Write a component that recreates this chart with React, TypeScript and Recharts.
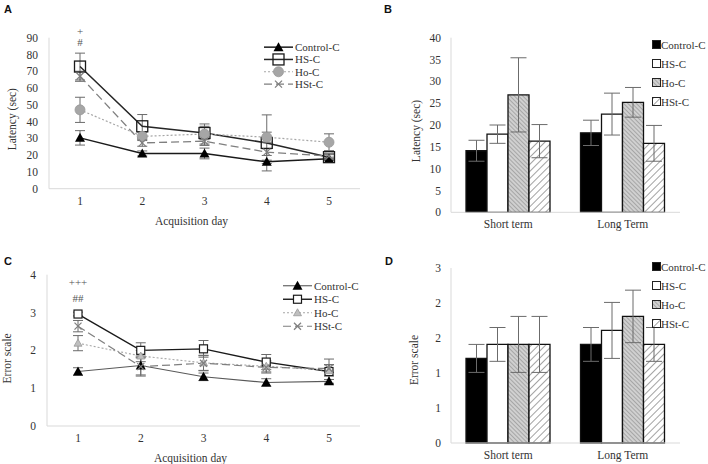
import React from 'react';
import { LineChart, Line, BarChart, Bar, XAxis, YAxis, ErrorBar, Legend, ReferenceDot } from 'recharts';

const days = ['1', '2', '3', '4', '5'];
const terms = ['Short term', 'Long Term'];

// A - latency over acquisition days
const latControl = [30.3, 21, 21, 16, 17.8];
const latControlErr = [4.3, 1.5, 3.2, 1, 1];
const latHS = [72.8, 37.2, 33.2, 27.3, 18.8];
const latHSErr = [8, 7, 4, 16.7, 1.5];
const latHo = [47, 31.2, 32.6, 30.7, 27.7];
const latHoErr = [7.5, 2.5, 6, 3, 5];
const latHSt = [67, 27.3, 28.3, 21.8, 19.4];
const latHStErr = [3, 2, 2.5, 2, 1.5];
const latTicks = [0, 10, 20, 30, 40, 50, 60, 70, 80, 90];
const annotA = [
	{ day: '1', y: 93.8, text: '+' },
	{ day: '1', y: 87.5, text: '#' },
];

// B - latency, short / long term
const memLatControl = [14.1, 18.2];
const memLatControlErr = [2.4, 2.9];
const memLatHS = [17.9, 22.5];
const memLatHSErr = [2.1, 4.8];
const memLatHo = [26.9, 25.2];
const memLatHoErr = [8.5, 3.4];
const memLatHSt = [16.3, 15.8];
const memLatHStErr = [3.8, 4.1];
const memLatTicks = [0, 5, 10, 15, 20, 25, 30, 35, 40];

// C - error scale over acquisition days
const errControl = [1.44, 1.6, 1.3, 1.15, 1.18];
const errControlErr = [0.1, 0.25, 0.1, 0.1, 0.05];
const errHS = [2.96, 2.0, 2.04, 1.69, 1.44];
const errHSErr = [0.05, 0.2, 0.22, 0.2, 0.33];
const errHo = [2.19, 1.85, 1.67, 1.58, 1.47];
const errHoErr = [0.2, 0.15, 0.2, 0.15, 0.15];
const errHSt = [2.64, 1.57, 1.66, 1.55, 1.52];
const errHStErr = [0.15, 0.25, 0.2, 0.15, 0.1];
const errTicks = [0, 1, 2, 3, 4];
const annotC = [
	{ day: '1', y: 3.81, text: '+++' },
	{ day: '1', y: 3.38, text: '##' },
];

// D - error scale, short / long term
const memErrControl = [1.45, 1.69];
const memErrControlErr = [0.24, 0.29];
const memErrHS = [1.69, 1.93];
const memErrHSErr = [0.29, 0.48];
const memErrHo = [1.69, 2.17];
const memErrHoErr = [0.48, 0.45];
const memErrHSt = [1.69, 1.69];
const memErrHStErr = [0.48, 0.29];
const memErrTicks = [0, 0.6, 1.2, 1.8, 2.4, 3];

const latencyData = days.map((day, i) => ({
	day,
	control: latControl[i], controlErr: latControlErr[i],
	hs: latHS[i], hsErr: latHSErr[i],
	ho: latHo[i], hoErr: latHoErr[i],
	hst: latHSt[i], hstErr: latHStErr[i],
}));

const errorData = days.map((day, i) => ({
	day,
	control: errControl[i], controlErr: errControlErr[i],
	hs: errHS[i], hsErr: errHSErr[i],
	ho: errHo[i], hoErr: errHoErr[i],
	hst: errHSt[i], hstErr: errHStErr[i],
}));

const memLatData = terms.map((term, i) => ({
	term,
	control: memLatControl[i], controlErr: memLatControlErr[i],
	hs: memLatHS[i], hsErr: memLatHSErr[i],
	ho: memLatHo[i], hoErr: memLatHoErr[i],
	hst: memLatHSt[i], hstErr: memLatHStErr[i],
}));

const memErrData = terms.map((term, i) => ({
	term,
	control: memErrControl[i], controlErr: memErrControlErr[i],
	hs: memErrHS[i], hsErr: memErrHSErr[i],
	ho: memErrHo[i], hoErr: memErrHoErr[i],
	hst: memErrHSt[i], hstErr: memErrHStErr[i],
}));

const SERIF = "'Liberation Serif', 'Times New Roman', serif";
const AXIS = '#d9d9d9';
const TEXT = '#333';
const ERR = '#6b6b6b';

type MarkerKind = 'triangle' | 'square' | 'squareWhite' | 'circle' | 'cross' | 'smallTriangle';

interface LineSeries {
	key: string;
	name: string;
	stroke: string;
	width: number;
	dash?: string;
	marker: MarkerKind;
}

const seriesA: LineSeries[] = [
	{ key: 'control', name: 'Control-C', stroke: '#1a1a1a', width: 1.5, marker: 'triangle' },
	{ key: 'hs', name: 'HS-C', stroke: '#262626', width: 1.5, marker: 'square' },
	{ key: 'ho', name: 'Ho-C', stroke: '#a6a6a6', width: 1.2, dash: '2 2', marker: 'circle' },
	{ key: 'hst', name: 'HSt-C', stroke: '#7f7f7f', width: 1.3, dash: '8 4', marker: 'cross' },
];

const seriesC: LineSeries[] = [
	{ key: 'control', name: 'Control-C', stroke: '#595959', width: 1.1, marker: 'triangle' },
	{ key: 'hs', name: 'HS-C', stroke: '#1a1a1a', width: 1.4, marker: 'squareWhite' },
	{ key: 'ho', name: 'Ho-C', stroke: '#a6a6a6', width: 1.1, dash: '2 2', marker: 'smallTriangle' },
	{ key: 'hst', name: 'HSt-C', stroke: '#7f7f7f', width: 1.2, dash: '8 4', marker: 'cross' },
];

const Marker = ({ kind, cx, cy }: { kind: MarkerKind; cx: number; cy: number }) => {
	if (cx == null || cy == null) return null;
	switch (kind) {
		case 'triangle':
			return <polygon points={`${cx},${cy - 5} ${cx - 5},${cy + 4} ${cx + 5},${cy + 4}`} fill="#000" />;
		case 'square':
			return <rect x={cx - 5.5} y={cy - 5.5} width={11} height={11} fill="none" stroke="#1a1a1a" strokeWidth={1.3} />;
		case 'squareWhite':
			return <rect x={cx - 4} y={cy - 4} width={8} height={8} fill="#fff" stroke="#1a1a1a" strokeWidth={1.2} />;
		case 'circle':
			return <circle cx={cx} cy={cy} r={5} fill="#a6a6a6" stroke="#999" strokeWidth={0.8} />;
		case 'smallTriangle':
			return <polygon points={`${cx},${cy - 4} ${cx - 4},${cy + 3} ${cx + 4},${cy + 3}`} fill="#bfbfbf" stroke="#999" strokeWidth={0.8} />;
		case 'cross':
		default:
			return (
				<g stroke="#7f7f7f" strokeWidth={1.2}>
					<line x1={cx - 3.5} y1={cy - 3.5} x2={cx + 3.5} y2={cy + 3.5} />
					<line x1={cx - 3.5} y1={cy + 3.5} x2={cx + 3.5} y2={cy - 3.5} />
				</g>
			);
	}
};

const LineLegend = ({ items, rowH }: { items: LineSeries[]; rowH: number }) => (
	<svg width={110} height={rowH * items.length} style={{ display: 'block', overflow: 'visible' }}>
		{items.map((s, i) => {
			const y = rowH * i + rowH / 2;
			return (
				<g key={s.key}>
					<line x1={0} x2={29} y1={y} y2={y} stroke={s.stroke} strokeWidth={s.width} strokeDasharray={s.dash} />
					<Marker kind={s.marker} cx={14.5} cy={y} />
					<text x={31} y={y} dominantBaseline="central" fontSize={11} fill={TEXT} fontFamily={SERIF}>{s.name}</text>
				</g>
			);
		})}
	</svg>
);

const barGroups = [
	{ key: 'control', name: 'Control-C', fill: '#000' },
	{ key: 'hs', name: 'HS-C', fill: '#fff' },
	{ key: 'ho', name: 'Ho-C', fill: 'ho' },
	{ key: 'hst', name: 'HSt-C', fill: 'hst' },
];

const Patterns = ({ prefix }: { prefix: string }) => (
	<defs>
		<pattern id={`${prefix}-ho`} width={3} height={3} patternUnits="userSpaceOnUse" patternTransform="rotate(-45)">
			<rect width={3} height={3} fill="#d0d0d0" />
			<line x1={0} y1={0} x2={0} y2={3} stroke="#8a8a8a" strokeWidth={1.2} />
		</pattern>
		<pattern id={`${prefix}-hst`} width={5} height={5} patternUnits="userSpaceOnUse" patternTransform="rotate(45)">
			<rect width={5} height={5} fill="#fff" />
			<line x1={0} y1={0} x2={0} y2={5} stroke="#8a8a8a" strokeWidth={1.6} />
		</pattern>
	</defs>
);

const fillFor = (fill: string, prefix: string) =>
	fill === 'ho' || fill === 'hst' ? `url(#${prefix}-${fill})` : fill;

const BarLegend = ({ prefix, rowH }: { prefix: string; rowH: number }) => (
	<svg width={80} height={rowH * barGroups.length} style={{ display: 'block', overflow: 'visible' }}>
		<Patterns prefix={prefix} />
		{barGroups.map((g, i) => {
			const y = rowH * i + rowH / 2;
			return (
				<g key={g.key}>
					<rect x={0.5} y={y - 4} width={8} height={8} fill={fillFor(g.fill, prefix)} stroke="#222" strokeWidth={1} />
					<text x={9} y={y} dominantBaseline="central" fontSize={11} fill={TEXT} fontFamily={SERIF}>{g.name}</text>
				</g>
			);
		})}
	</svg>
);

const tickStyle = { fontSize: 11.5, fill: TEXT, fontFamily: SERIF };

const labelStyle = (value: string, offset: number, dy: number) => ({
	value,
	angle: -90,
	position: 'insideLeft' as const,
	offset,
	dy,
	fontSize: 11.5,
	fill: TEXT,
	fontFamily: SERIF,
	style: { textAnchor: 'middle' as const },
});

const DayChart = ({ data, series, ticks, domain, yTitle, yWidth, top, bottom, annots, legendPos, rowH, titleOffset, titleDy }: any) => (
	<LineChart width={362} height={232} data={data} margin={{ top, right: 2, bottom, left: 0 }}>
		<XAxis
			dataKey="day"
			padding={{ left: 31, right: 31 }}
			axisLine={{ stroke: AXIS }}
			tickLine={false}
			tick={tickStyle}
			interval={0}
			height={36}
			label={{ value: 'Acquisition day', position: 'insideBottom', offset: 0, dx: -13, fontSize: 11.5, fill: TEXT, fontFamily: SERIF }}
		/>
		<YAxis
			domain={domain}
			ticks={ticks}
			interval={0}
			width={yWidth}
			axisLine={{ stroke: AXIS }}
			tickLine={false}
			tickMargin={5}
			tick={tickStyle}
			label={labelStyle(yTitle, titleOffset, titleDy)}
		/>
		{series.map((s: LineSeries) => (
			<Line
				key={s.key}
				dataKey={s.key}
				name={s.name}
				stroke={s.stroke}
				strokeWidth={s.width}
				strokeDasharray={s.dash}
				isAnimationActive={false}
				dot={(p: any) => <Marker key={`${s.key}-${p.index}`} kind={s.marker} cx={p.cx} cy={p.cy} />}
				activeDot={false}
			>
				<ErrorBar dataKey={`${s.key}Err`} width={5} stroke={ERR} strokeWidth={1} isAnimationActive={false} />
			</Line>
		))}
		{annots.map((a: any, i: number) => (
			<ReferenceDot
				key={i}
				x={a.day}
				y={a.y}
				r={0}
				fill="none"
				stroke="none"
				ifOverflow="visible"
				label={{ value: a.text, position: 'center', fontSize: 11, fill: '#555', fontFamily: SERIF }}
			/>
		))}
		<Legend
			layout="vertical"
			align="center"
			verticalAlign="middle"
			wrapperStyle={{ left: legendPos[0], top: legendPos[1], width: 110 }}
			content={() => <LineLegend items={series} rowH={rowH} />}
		/>
	</LineChart>
);

const TermChart = ({ data, prefix, ticks, domain, top, xHeight, legendTop, format, yTitle, titleOffset, titleDy }: any) => (
	<BarChart width={354} height={232} data={data} margin={{ top, right: 28, bottom: 0, left: 0 }} barCategoryGap={15} barGap={0}>
		<Patterns prefix={prefix} />
		<XAxis dataKey="term" axisLine={{ stroke: AXIS }} tickLine={false} tick={tickStyle} interval={0} height={xHeight} />
		<YAxis
			domain={domain}
			ticks={ticks}
			interval={0}
			width={97}
			axisLine={{ stroke: AXIS }}
			tickLine={false}
			tickMargin={4}
			tick={tickStyle}
			tickFormatter={format}
			label={labelStyle(yTitle, titleOffset, titleDy)}
		/>
		{barGroups.map((g) => (
			<Bar key={g.key} dataKey={g.key} name={g.name} fill={fillFor(g.fill, prefix)} stroke="#111" strokeWidth={1.3} isAnimationActive={false}>
				<ErrorBar dataKey={`${g.key}Err`} width={8} stroke={ERR} strokeWidth={1} isAnimationActive={false} />
			</Bar>
		))}
		<Legend
			layout="vertical"
			align="center"
			verticalAlign="middle"
			wrapperStyle={{ left: 298, top: legendTop, width: 80 }}
			content={() => <BarLegend prefix={`${prefix}-lg`} rowH={19} />}
		/>
	</BarChart>
);

const letter = (ch: string, left: number, top: number) => (
	<div style={{ position: 'absolute', left, top, fontFamily: "'Liberation Sans', Arial, sans-serif", fontWeight: 'bold', fontSize: 11, color: '#111' }}>{ch}</div>
);

const App: React.FC = () => (
	<div style={{ position: 'absolute', left: 0, top: 0, width: 708, height: 464, background: '#fff', fontFamily: SERIF }}>
		<div style={{ position: 'absolute', left: 0, top: 0 }}>
			<DayChart
				data={latencyData}
				series={seriesA}
				ticks={latTicks}
				domain={[0, 90]}
				yTitle="Latency (sec)"
				yWidth={49}
				top={37.7}
				bottom={7.3}
				annots={annotA}
				legendPos={[264, 41]}
				rowH={12.3}
				titleOffset={12}
				titleDy={6}
			/>
		</div>
		<div style={{ position: 'absolute', left: 354, top: 0 }}>
			<TermChart
				data={memLatData}
				prefix="b"
				ticks={memLatTicks}
				domain={[0, 40]}
				top={37.7}
				xHeight={19.7}
				legendTop={34.5}
				yTitle="Latency (sec)"
				titleOffset={62}
				titleDy={6}
			/>
		</div>
		<div style={{ position: 'absolute', left: 0, top: 232 }}>
			<DayChart
				data={errorData}
				series={seriesC}
				ticks={errTicks}
				domain={[0, 4]}
				yTitle="Error scale"
				yWidth={47}
				top={42.7}
				bottom={2}
				annots={annotC}
				legendPos={[283, 47]}
				rowH={13.5}
				titleOffset={7}
				titleDy={8}
			/>
		</div>
		<div style={{ position: 'absolute', left: 354, top: 232 }}>
			<TermChart
				data={memErrData}
				prefix="d"
				ticks={memErrTicks}
				domain={[0, 3]}
				top={36}
				xHeight={21}
				legendTop={24.5}
				format={(v: number) => String(Math.round(v))}
				yTitle="Error scale"
				titleOffset={60}
				titleDy={4.5}
			/>
		</div>
		{letter('A', 4, 3)}
		{letter('B', 384, 3)}
		{letter('C', 4, 255)}
		{letter('D', 385, 255)}
	</div>
);

export default App;
